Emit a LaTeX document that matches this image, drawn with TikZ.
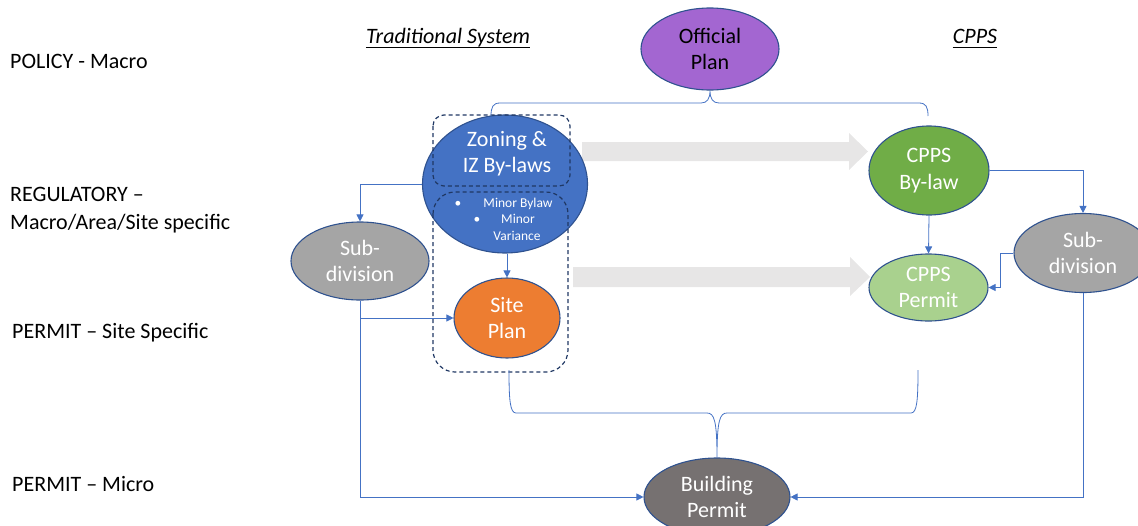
\documentclass[tikz,border=0pt]{standalone}
\usepackage{fontspec}
\setmainfont{Carlito}
\usetikzlibrary{shapes.geometric,arrows.meta}
\definecolor{bordc}{HTML}{2F528F}
\definecolor{connc}{HTML}{4472C4}
\definecolor{dashc}{HTML}{203864}
\definecolor{purp}{HTML}{A366D1}
\definecolor{zblue}{HTML}{4472C4}
\definecolor{sgrey}{HTML}{A5A5A5}
\definecolor{sorange}{HTML}{ED7D31}
\definecolor{cgreen}{HTML}{70AD47}
\definecolor{lgreen}{HTML}{A9D18E}
\definecolor{dgrey}{HTML}{767171}
\definecolor{agrey}{HTML}{E7E6E6}
\begin{document}
\begin{tikzpicture}[x=1pt,y=-1pt,
  oval/.style={ellipse, draw=bordc, line width=1.1pt, inner sep=0pt, text=white,
    align=center, font=\fontsize{22}{26.5}\selectfont},
  conn/.style={draw=connc, line width=0.8pt},
  arr/.style={conn, -{Triangle[length=7pt,width=7pt]}},
  dbox/.style={draw=dashc, line width=1.2pt, dash pattern=on 4pt off 3pt},
  lab/.style={anchor=base west, font=\fontsize{22}{26}\selectfont, inner sep=0pt},
  head/.style={anchor=base, font=\fontsize{22}{26}\selectfont\itshape, inner sep=0pt},
  ztext/.style={anchor=base, text=white, font=\fontsize{22}{26}\selectfont, inner sep=0pt},
  btext/.style={anchor=base, text=white, font=\fontsize{13.5}{16}\selectfont, inner sep=0pt},
  bigarrow/.style={fill=agrey, draw=none}
]
\useasboundingbox (0,0) rectangle (1138,525);

% left level labels
\node[lab] (l1) at (10,68) {POLICY - Macro};
\node[lab] (l2) at (10,201) {REGULATORY –};
\node[lab] (l3) at (10,229) {Macro/Area/Site specific};
\node[lab] (l4) at (12,338) {PERMIT – Site Specific};
\node[lab] (l5) at (12,491) {PERMIT – Micro};

% column headings
\node[head] (ts) at (448,43.5) {Traditional System};
\draw[line width=0.8pt] ([yshift=-3.5pt]ts.base west) -- ([yshift=-3.5pt]ts.base east);
\node[head] (cp0) at (975,43.5) {CPPS};
\draw[line width=0.8pt] ([yshift=-3.5pt]cp0.base west) -- ([yshift=-3.5pt]cp0.base east);

% big grey arrows
\fill[bigarrow] (582,142) -- (849,142) -- (849,133) -- (868,151.5) -- (849,170) -- (849,161) -- (582,161) -- cycle;
\fill[bigarrow] (573,267) -- (850,267) -- (850,257) -- (870,277) -- (850,296) -- (850,287) -- (573,287) -- cycle;

% nodes
\node[oval, fill=purp, text=black, minimum width=138pt, minimum height=82pt] (op) at (710,49) {Official\\Plan};
\node[oval, fill=zblue, minimum width=165pt, minimum height=138pt] (zon) at (505,184) {};
\node[ztext] (zt1) at (507,146) {Zoning \&};
\node[ztext] (zt2) at (507,172) {IZ By-laws};
\node[btext] (b1) at (458,207) {•};
\node[btext] (m1) at (518,207) {Minor Bylaw};
\node[btext] (b2) at (477,223) {•};
\node[btext] (m2) at (518,223) {Minor};
\node[btext] (m3) at (517,240) {Variance};

\node[oval, fill=sgrey, minimum width=138pt, minimum height=78pt] (sdl) at (360,261) {Sub-\\division};
\node[oval, fill=sorange, minimum width=106pt, minimum height=80pt] (sp) at (507,318) {Site\\Plan};
\node[oval, fill=cgreen, minimum width=120pt, minimum height=89pt] (cb) at (929,170.5) {CPPS\\By-law};
\node[oval, fill=lgreen, minimum width=119pt, minimum height=67pt] (cp) at (928.5,287.5) {CPPS\\Permit};
\node[oval, fill=sgrey, minimum width=138pt, minimum height=79pt] (sdr) at (1083,253) {Sub-\\division};
\node[oval, fill=dgrey, minimum width=146pt, minimum height=78pt] (bp) at (717,497) {Building\\Permit};

% dashed groups
\draw[dbox, rounded corners=11pt] (433,115) rectangle (570,186);
\draw[dbox, rounded corners=22pt] (433,192) rectangle (568,372);

% connectors
\draw[arr] (zon.west) -| (sdl.north);
\draw[arr] (sdl.south) |- (bp.west);
\draw[arr] (sdl.south |- sp.west) -- (sp.west);
\draw[arr] (sp.north |- zon.south) -- (sp.north);
\draw[arr] (cb.east) -| (sdr.north);
\draw[arr] (cb.south) -- (cp.north);
\draw[arr] (sdr.west) -- ++(-13,0) |- (cp.east);
\draw[arr] (sdr.south) |- (bp.east);

% top brace
\coordinate (tbl) at (491,116);
\coordinate (tbr) at (928,116);
\draw[conn] (tbl) .. controls (491,107) and (493,103) .. (500,103) -- (701,103)
  .. controls (707,103) and (710,99) .. (op.south)
  .. controls (710,99) and (713,103) .. (719,103) -- (919,103)
  .. controls (926,103) and (928,107) .. (tbr);

% bottom brace
\coordinate (bbl) at (509,370);
\coordinate (bbr) at (918,370);
\draw[conn] (bbl) .. controls (509,400) and (510,413) .. (516,413) -- (707,413)
  .. controls (714,413) and (717,420) .. (bp.north)
  .. controls (717,420) and (720,413) .. (727,413) -- (911,413)
  .. controls (917,413) and (918,400) .. (bbr);
\end{tikzpicture}
\end{document}
